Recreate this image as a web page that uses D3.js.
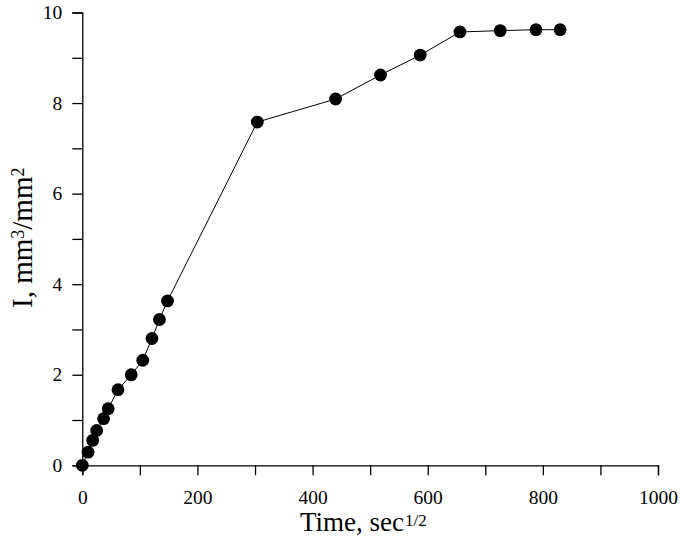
<!DOCTYPE html>
<html>
<head>
<meta charset="utf-8">
<script src="https://cdn.jsdelivr.net/npm/d3@7"></script>
<style>
  html, body { margin: 0; padding: 0; background: #fff; }
  svg { display: block; }
  svg text { font-family: "Liberation Serif", "Times New Roman", serif !important; fill: #000; }
</style>
</head>
<body>
<svg id="chart" width="682" height="540"></svg>
<script>
// Data
const timeValues = [0, 10, 18, 25, 37, 45, 62, 85, 105, 121, 134, 148, 304, 440, 518, 587, 656, 726, 788, 830];
const intakeValues = [0, 0.29, 0.55, 0.77, 1.03, 1.25, 1.67, 2.0, 2.32, 2.8, 3.22, 3.63, 7.58, 8.09, 8.62, 9.06, 9.57, 9.6, 9.62, 9.62];
const xTicks = [0, 100, 200, 300, 400, 500, 600, 700, 800, 900, 1000];
const xTickLabels = ["0", "", "200", "", "400", "", "600", "", "800", "", "1000"];
const yTicks = [0, 1, 2, 3, 4, 5, 6, 7, 8, 9, 10];
const yTickLabels = ["0", "", "2", "", "4", "", "6", "", "8", "", "10"];

const points = timeValues.map((t, i) => ({ t: t, v: intakeValues[i] }));

const svg = d3.select("#chart");
const x = d3.scaleLinear().domain([0, 1000]).range([82.3, 658]);
const y = d3.scaleLinear().domain([0, 10]).range([465.3, 12.5]);

const serif = "'Liberation Serif', 'Times New Roman', serif";

// X axis
const xAxis = d3.axisBottom(x)
  .tickValues(xTicks)
  .tickSize(10)
  .tickPadding(15)
  .tickFormat((d, i) => xTickLabels[i]);
const gx = svg.append("g").attr("transform", `translate(0,${y(0)})`).call(xAxis)
  .attr("font-family", serif).attr("font-size", 19.5);
gx.select(".domain").attr("stroke", "#000").attr("stroke-width", 1.3);
gx.selectAll(".tick line").attr("stroke", "#000").attr("stroke-width", 1.3);
gx.selectAll(".tick text").attr("font-family", serif).style("font-size", "19.5px");

// Y axis
const yAxis = d3.axisLeft(y)
  .tickValues(yTicks)
  .tickSize(10)
  .tickPadding(10)
  .tickFormat((d, i) => yTickLabels[i]);
const gy = svg.append("g").attr("transform", `translate(${x(0)},0)`).call(yAxis)
  .attr("font-family", serif).attr("font-size", 19.5);
gy.select(".domain").attr("stroke", "#000").attr("stroke-width", 1.3);
gy.selectAll(".tick line").attr("stroke", "#000").attr("stroke-width", 1.3);
gy.selectAll(".tick text").attr("font-family", serif).style("font-size", "19.5px");

// Line
const line = d3.line().x(d => x(d.t)).y(d => y(d.v));
svg.append("path")
  .datum(points)
  .attr("fill", "none")
  .attr("stroke", "#000")
  .attr("stroke-width", 1)
  .attr("d", line);

// Markers
svg.append("g").selectAll("circle")
  .data(points)
  .join("circle")
  .attr("cx", d => x(d.t))
  .attr("cy", d => y(d.v))
  .attr("r", 6.4)
  .attr("fill", "#000");

// X axis title
const xt = svg.append("text")
  .attr("x", 300)
  .attr("y", 531)
  .attr("text-anchor", "start")
  .attr("font-family", serif)
  .style("font-size", "27px");
xt.append("tspan").text("Time, sec");
xt.append("tspan").attr("dx", 1).attr("dy", -5).style("font-size", "17px").text("1/2");

// Y axis title
const yt = svg.append("text")
  .attr("transform", "translate(32,308) rotate(-90)")
  .attr("text-anchor", "start")
  .attr("font-family", serif)
  .style("font-size", "29px");
yt.append("tspan").text("I, mm");
yt.append("tspan").attr("dy", -8).style("font-size", "18px").text("3");
yt.append("tspan").attr("dy", 8).text("/mm");
yt.append("tspan").attr("dy", -8).style("font-size", "18px").text("2");
</script>
</body>
</html>
